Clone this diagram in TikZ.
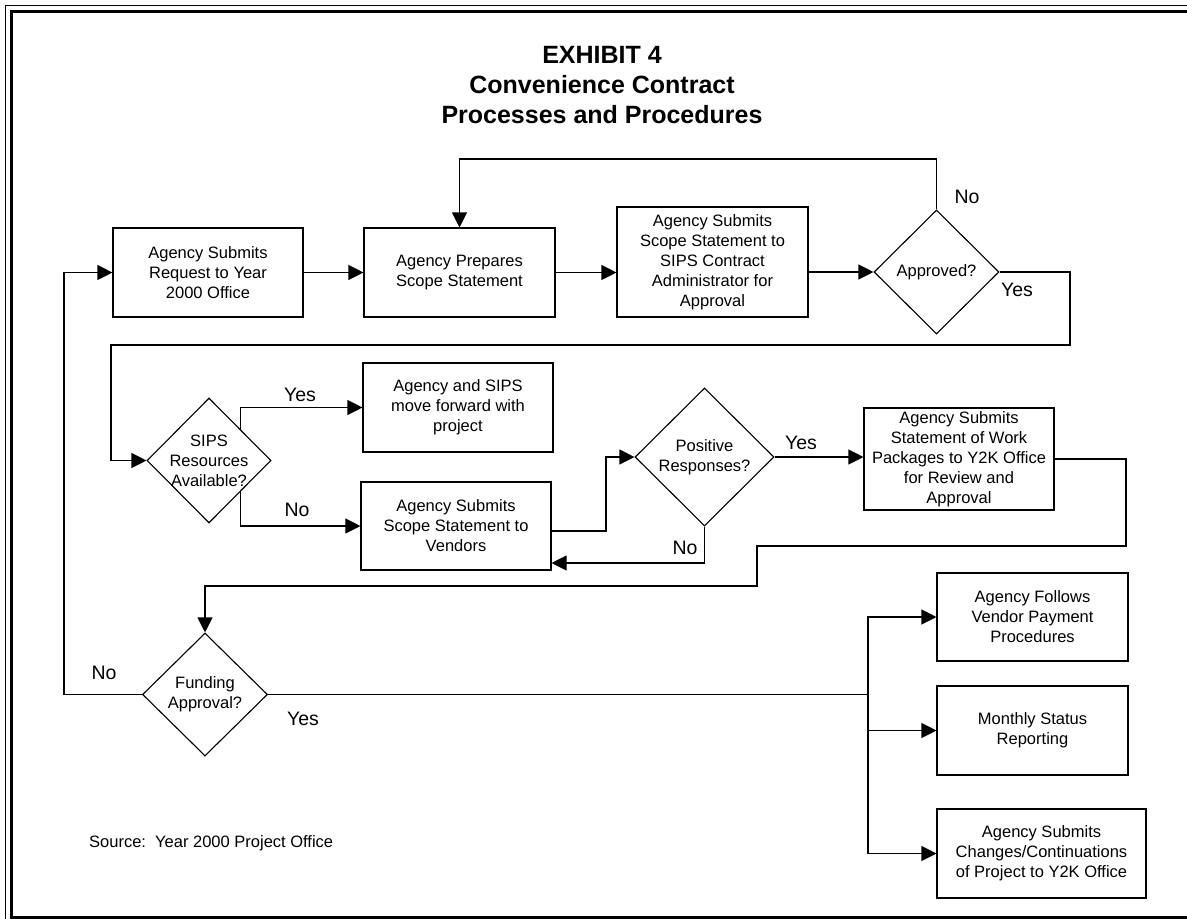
\documentclass[tikz,border=0pt]{standalone}
\usepackage{fontspec}
\setmainfont{Liberation Sans}
\usetikzlibrary{shapes.geometric,arrows.meta}

\tikzset{
  stepbox/.style={draw, line width=1.1pt, align=center, inner sep=0pt, font=\fontsize{16.5}{20}\selectfont},
  decision/.style={diamond, draw, line width=1.1pt, align=center, inner sep=-8pt, font=\fontsize{16.5}{20}\selectfont},
  flow/.style={line width=1.1pt, -{Triangle[length=15pt,width=15pt]}},
  link/.style={line width=1.1pt},
  answer/.style={font=\fontsize{19.5}{23}\selectfont, inner sep=0pt},
}

\begin{document}
\begin{tikzpicture}[x=1pt, y=-1pt]
		\useasboundingbox (0,0) rectangle (1187,919);
		% cornice
		\draw[line width=1.8pt] (5.5,925) -- (5.5,5.5) -- (1195,5.5);
		\draw[line width=3pt] (1195,11) -- (11,11) -- (11,917) -- (1195,917);
		% titolo
		\node[font=\bfseries\fontsize{25}{30}\selectfont, align=center, inner sep=0pt, anchor=north] (title) at (602,46)
		{EXHIBIT 4\\Convenience Contract\\Processes and Procedures};
		% prima riga
		\node[stepbox, minimum width=190pt, minimum height=89pt] (req) at (208,272.5) {Agency Submits\\Request to Year\\2000 Office};
		\node[stepbox, minimum width=191pt, minimum height=89pt] (prep) at (459.5,272.5) {Agency Prepares\\Scope Statement};
		\node[stepbox, minimum width=191pt, minimum height=110pt] (sips) at (712.5,262) {Agency Submits\\Scope Statement to\\SIPS Contract\\Administrator for\\Approval};
		\node[decision, minimum width=125pt, minimum height=124pt] (appr) at (936.5,272) {Approved?};
		% risorse e fornitori
		\node[decision, minimum width=124pt, minimum height=125pt] (res) at (209,460.5) {SIPS\\Resources\\Available?};
		\node[stepbox, minimum width=190pt, minimum height=89pt] (fwd) at (458,407.5) {Agency and SIPS\\move forward with\\project};
		\node[stepbox, minimum width=190pt, minimum height=88pt] (vend) at (456,526) {Agency Submits\\Scope Statement to\\Vendors};
		\node[decision, minimum width=139pt, minimum height=138pt] (pos) at (704.5,457) {Positive\\Responses?};
		\node[stepbox, minimum width=190pt, minimum height=102pt] (sow) at (959,459) {Agency Submits\\Statement of Work\\Packages to Y2K Office\\for Review and\\Approval};
		% finanziamento
		\node[decision, minimum width=125pt, minimum height=123pt] (fund) at (205,694.5) {Funding\\Approval?};
		\node[stepbox, minimum width=191pt, minimum height=88pt] (pay) at (1032.5,617) {Agency Follows\\Vendor Payment\\Procedures};
		\node[stepbox, minimum width=191pt, minimum height=89pt] (rep) at (1032.5,730.5) {Monthly Status\\Reporting};
		\node[stepbox, minimum width=209pt, minimum height=89pt] (chg) at (1041.5,853.5) {Agency Submits\\Changes/Continuations\\of Project to Y2K Office};
		\node[anchor=west, inner sep=0pt, font=\fontsize{16.5}{20}\selectfont] (src) at (89,843) {Source:\ \ Year 2000 Project Office};
		% punti di piega
		\coordinate (topline) at (0,159);
		\coordinate (yesR) at (1070,345);
		\coordinate (yesL) at (111,345);
		\coordinate (vbend) at (606,0);
		\coordinate (noback) at (0,563);
		\coordinate (s1) at (1126,546);
		\coordinate (s2) at (757,586);
		\coordinate (nobend) at (64,0);
		\coordinate (split) at (868,694.5);
		% frecce
		\draw[flow] (req.east) -- (prep.west);
		\draw[flow] (prep.east) -- (prep.east -| sips.west);
		\draw[flow] (sips.east |- appr.west) -- (appr.west);
		\draw[flow] (appr.north) -- (appr.north |- topline) -| (prep.north);
		\draw[flow] (appr.east) -| (yesR) -- (yesL) |- (res.west);
		\draw[flow] (res.north east) |- (fwd.west);
		\draw[flow] (res.south east) |- (vend.west);
		\draw[flow] ([yshift=-5pt]vend.east) -| (vbend |- pos.west) -- (pos.west);
		\draw[flow] (pos.east) -- (pos.east -| sow.west);
		\draw[flow] (pos.south) |- (vend.east |- noback);
		\draw[flow] (sow.east) -| (s1) -| (s2) -| (fund.north);
		\draw[flow] (fund.west) -| (nobend |- req.west) -- (req.west);
		\draw[link] (fund.east) -- (split);
		\draw[flow] (split) |- (pay.west);
		\draw[flow] (split) |- (rep.west);
		\draw[flow] (split) |- (chg.west);
		% etichette
		\node[answer] (noA) at (967,197) {No};
		\node[answer] (yesA) at (1017,290) {Yes};
		\node[answer] (yesB) at (300,395) {Yes};
		\node[answer] (noB) at (297,510) {No};
		\node[answer] (yesC) at (801,443) {Yes};
		\node[answer] (noC) at (685,548) {No};
		\node[answer] (noD) at (104,673) {No};
		\node[answer] (yesD) at (303,719) {Yes};
	\end{tikzpicture}
\end{document}
